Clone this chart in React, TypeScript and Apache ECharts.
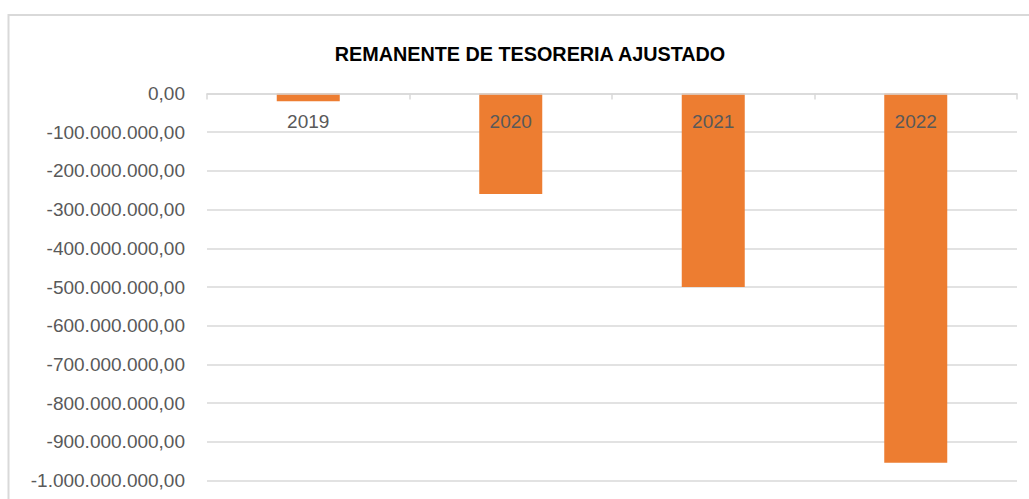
import React, { useEffect, useRef } from "react";
import * as echarts from "echarts";

const TITLE = "REMANENTE DE TESORERIA AJUSTADO";
const categories = ["2019", "2020", "2021", "2022"];
const values = [-20000000, -260000000, -500000000, -954000000];
const yMin = -1000000000;
const yMax = 0;
const yInterval = 100000000;

function fmt(v: number): string {
  const neg = v < 0;
  const s = Math.abs(Math.round(v)).toString().replace(/\B(?=(\d{3})+(?!\d))/g, ".");
  return (neg ? "-" : "") + s + ",00";
}

export default function App() {
  const ref = useRef<HTMLDivElement>(null);
  useEffect(() => {
    if (!ref.current) return;
    const chart = echarts.init(ref.current, null, { renderer: "svg" });
    const font = "Liberation Sans";
    chart.setOption({
      animation: false,
      backgroundColor: "#ffffff",
      title: {
        text: TITLE,
        left: 525,
        top: 39,
        textAlign: "center",
        textStyle: { fontFamily: font, fontSize: 19.8, fontWeight: "bold", color: "#000000", lineHeight: 20 },
      },
      graphic: [
        {
          type: "rect",
          shape: { x: 8.5, y: 15, width: 1100, height: 600 },
          style: { fill: "none", stroke: "#d9d9d9", lineWidth: 2 },
          silent: true,
        },
      ],
      grid: { left: 207, right: 12, top: 93.5, bottom: 18.5, containLabel: false, outerBoundsMode: "none" },
      xAxis: {
        type: "category",
        data: categories,
        position: "top",
        z: 10,
        axisLine: { onZero: false, lineStyle: { color: "#d9d9d9", width: 1.5 } },
        axisTick: { show: true, inside: true, length: 6, lineStyle: { color: "#d9d9d9", width: 1.5 } },
        axisLabel: { inside: true, fontFamily: font, fontSize: 19, color: "#595959", margin: 18 },
        splitLine: { show: false },
      },
      yAxis: {
        type: "value",
        min: yMin,
        max: yMax,
        interval: yInterval,
        axisLine: { show: false },
        axisTick: { show: false },
        axisLabel: { fontFamily: font, fontSize: 19, color: "#595959", margin: 22, formatter: (v: number) => fmt(v) },
        splitLine: { lineStyle: { color: "#d9d9d9", width: 1.5 } },
      },
      series: [
        {
          type: "bar",
          data: values,
          barWidth: 63,
          itemStyle: { color: "#ED7D31" },
        },
      ],
    });
    return () => chart.dispose();
  }, []);
  return <div ref={ref} style={{ position: "fixed", left: 0, top: 0, width: 1029, height: 499 }} />;
}
